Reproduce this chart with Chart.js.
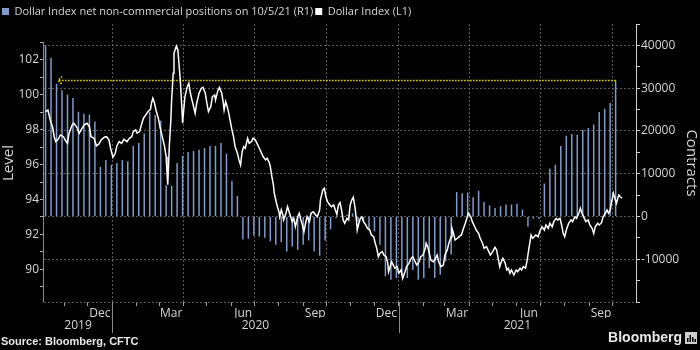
<!DOCTYPE html>
<html>
<head>
<meta charset="utf-8">
<script src="https://cdn.jsdelivr.net/npm/chart.js@4/dist/chart.umd.min.js"></script>
<style>
  html, body { margin: 0; padding: 0; background: #000; }
</style>
</head>
<body>
<canvas id="grafico" width="700" height="350"></canvas>
<script>
// Textos del grafico
const leyendas = ['Dollar Index net non-commercial positions on 10/5/21 (R1)', 'Dollar Index (L1)']
const nombresMeses = ['Jan', 'Feb', 'Mar', 'Apr', 'May', 'Jun', 'Jul', 'Aug', 'Sep', 'Oct', 'Nov', 'Dec']
const mesesConEtiqueta = ['Dec', 'Mar', 'Jun', 'Sep'] // Meses que llevan etiqueta en el eje X
const anos = ['2019', '2020', '2021'] // Segunda fila del eje X

// Posiciones netas no comerciales (barras semanales, eje derecho)
const fechasBarras = [
  '2019-10-08', '2019-10-15', '2019-10-22', '2019-10-29', '2019-11-05', '2019-11-12', '2019-11-19', '2019-11-26',
  '2019-12-03', '2019-12-10', '2019-12-17', '2019-12-24', '2019-12-31',
  '2020-01-07', '2020-01-14', '2020-01-21', '2020-01-28', '2020-02-04', '2020-02-11', '2020-02-18', '2020-02-25',
  '2020-03-03', '2020-03-10', '2020-03-17', '2020-03-24', '2020-03-31', '2020-04-07', '2020-04-14', '2020-04-21',
  '2020-04-28', '2020-05-05', '2020-05-12', '2020-05-19', '2020-05-26', '2020-06-02', '2020-06-09', '2020-06-16',
  '2020-06-23', '2020-06-30', '2020-07-07', '2020-07-14', '2020-07-21', '2020-07-28', '2020-08-04', '2020-08-11',
  '2020-08-18', '2020-08-25', '2020-09-01', '2020-09-08', '2020-09-15', '2020-09-22', '2020-09-29', '2020-10-06',
  '2020-10-13', '2020-10-20', '2020-10-27', '2020-11-03', '2020-11-10', '2020-11-17', '2020-11-24', '2020-12-01',
  '2020-12-08', '2020-12-15', '2020-12-22', '2020-12-29',
  '2021-01-05', '2021-01-12', '2021-01-19', '2021-01-26', '2021-02-02', '2021-02-09', '2021-02-16', '2021-02-23',
  '2021-03-02', '2021-03-09', '2021-03-16', '2021-03-23', '2021-03-30', '2021-04-06', '2021-04-13', '2021-04-20',
  '2021-04-27', '2021-05-04', '2021-05-11', '2021-05-18', '2021-05-25', '2021-06-01', '2021-06-08', '2021-06-15',
  '2021-06-22', '2021-06-29', '2021-07-06', '2021-07-13', '2021-07-20', '2021-07-27', '2021-08-03', '2021-08-10',
  '2021-08-17', '2021-08-24', '2021-08-31', '2021-09-07', '2021-09-14', '2021-09-21', '2021-09-28', '2021-10-05'
]
const posiciones = [
  40000, 37100, 31000, 29500, 28500, 27700, 24500, 24000, 23800, 22200, 11600, 13200, 12100,
  12500, 13200, 12900, 16500, 17200, 19400, 24400, 23700, 22400, 7300, 7200, 12500, 14200,
  15100, 15300, 15600, 16000, 16500, 16500, 17200, 14700, 8300, 4800, -5400, -5200, -4500,
  -4700, -5000, -5800, -6600, -6000, -8200, -7000, -7800, -6600, -5600, -8200, -9200, -5600,
  -3000, -400, -200, 400, 700, -1100, -1100, -3000, -3500, -6600, -14000, -14800, -14400,
  -13600, -14400, -12500, -14800, -14400, -12100, -14400, -13600, -10500, -8900, 5700, 5400, 5600,
  4500, 6000, 3400, 2600, 2000, 2400, 2800, 2800, 3000, 1600, -2400, -500, -600,
  7700, 11200, 12100, 16500, 18900, 19300, 19100, 20300, 20700, 21500, 24400, 25200, 26500, 31800
]

// Dollar Index (linea, eje izquierdo)
const fechasIndice = [
  '2019-10-08', '2019-10-11', '2019-10-14', '2019-10-17', '2019-10-19', '2019-10-21', '2019-10-24', '2019-10-27', '2019-10-31',
  '2019-11-02', '2019-11-05', '2019-11-07', '2019-11-11', '2019-11-13', '2019-11-17', '2019-11-20', '2019-11-23', '2019-11-26', '2019-11-30',
  '2019-12-03', '2019-12-05', '2019-12-09', '2019-12-12', '2019-12-15', '2019-12-18', '2019-12-22', '2019-12-25', '2019-12-28', '2019-12-30',
  '2020-01-02', '2020-01-05', '2020-01-07', '2020-01-10', '2020-01-13', '2020-01-16', '2020-01-20', '2020-01-23', '2020-01-26', '2020-01-28', '2020-01-31',
  '2020-02-02', '2020-02-05', '2020-02-08', '2020-02-10', '2020-02-13', '2020-02-16', '2020-02-19', '2020-02-20', '2020-02-22', '2020-02-24', '2020-02-26', '2020-02-29',
  '2020-03-02', '2020-03-05', '2020-03-08', '2020-03-10', '2020-03-11', '2020-03-12', '2020-03-13', '2020-03-14', '2020-03-16', '2020-03-17', '2020-03-19',
  '2020-03-20', '2020-03-23', '2020-03-25', '2020-03-26', '2020-03-28', '2020-03-30', '2020-03-31',
  '2020-04-01', '2020-04-03', '2020-04-06', '2020-04-08', '2020-04-10', '2020-04-12', '2020-04-14', '2020-04-16', '2020-04-18', '2020-04-21', '2020-04-24', '2020-04-26', '2020-04-29',
  '2020-05-01', '2020-05-03', '2020-05-06', '2020-05-08', '2020-05-11', '2020-05-12', '2020-05-15', '2020-05-17', '2020-05-20', '2020-05-22', '2020-05-23', '2020-05-25', '2020-05-27', '2020-05-29', '2020-05-31',
  '2020-06-02', '2020-06-04', '2020-06-06', '2020-06-09', '2020-06-11', '2020-06-13', '2020-06-15', '2020-06-17', '2020-06-19', '2020-06-22', '2020-06-24', '2020-06-27', '2020-06-29',
  '2020-07-02', '2020-07-04', '2020-07-07', '2020-07-09', '2020-07-12', '2020-07-15', '2020-07-17', '2020-07-20', '2020-07-21', '2020-07-23', '2020-07-25', '2020-07-26', '2020-07-28', '2020-07-30',
  '2020-08-01', '2020-08-02', '2020-08-04', '2020-08-06', '2020-08-07', '2020-08-10', '2020-08-12', '2020-08-14', '2020-08-16', '2020-08-18', '2020-08-20', '2020-08-22', '2020-08-25', '2020-08-27', '2020-08-29', '2020-08-31',
  '2020-09-02', '2020-09-04', '2020-09-06', '2020-09-09', '2020-09-11', '2020-09-14', '2020-09-17', '2020-09-19', '2020-09-22', '2020-09-23', '2020-09-26', '2020-09-28', '2020-09-30',
  '2020-10-02', '2020-10-05', '2020-10-07', '2020-10-10', '2020-10-12', '2020-10-14', '2020-10-16', '2020-10-18', '2020-10-20', '2020-10-22', '2020-10-24', '2020-10-27', '2020-10-29', '2020-10-31',
  '2020-11-02', '2020-11-04', '2020-11-06', '2020-11-08', '2020-11-09', '2020-11-11', '2020-11-13', '2020-11-15', '2020-11-17', '2020-11-20', '2020-11-22', '2020-11-25', '2020-11-27', '2020-11-30',
  '2020-12-02', '2020-12-04', '2020-12-06', '2020-12-08', '2020-12-11', '2020-12-13', '2020-12-16', '2020-12-18', '2020-12-19', '2020-12-21', '2020-12-23', '2020-12-25', '2020-12-27', '2020-12-30',
  '2021-01-01', '2021-01-04', '2021-01-06', '2021-01-09', '2021-01-11', '2021-01-14', '2021-01-17', '2021-01-19', '2021-01-22', '2021-01-24', '2021-01-27', '2021-01-29',
  '2021-02-01', '2021-02-04', '2021-02-05', '2021-02-07', '2021-02-09', '2021-02-11', '2021-02-14', '2021-02-16', '2021-02-19', '2021-02-21', '2021-02-24', '2021-02-27',
  '2021-03-01', '2021-03-04', '2021-03-06', '2021-03-09', '2021-03-10', '2021-03-12', '2021-03-14', '2021-03-17', '2021-03-19', '2021-03-22', '2021-03-24', '2021-03-27', '2021-03-29', '2021-03-31',
  '2021-04-03', '2021-04-05', '2021-04-08', '2021-04-10', '2021-04-13', '2021-04-15', '2021-04-18', '2021-04-20', '2021-04-23', '2021-04-25', '2021-04-28',
  '2021-05-01', '2021-05-04', '2021-05-06', '2021-05-08', '2021-05-10', '2021-05-12', '2021-05-14', '2021-05-17', '2021-05-19', '2021-05-21', '2021-05-23', '2021-05-25', '2021-05-28', '2021-05-31',
  '2021-06-02', '2021-06-05', '2021-06-07', '2021-06-09', '2021-06-12', '2021-06-14', '2021-06-16', '2021-06-18', '2021-06-19', '2021-06-21', '2021-06-23', '2021-06-25', '2021-06-28', '2021-06-30',
  '2021-07-03', '2021-07-06', '2021-07-08', '2021-07-11', '2021-07-13', '2021-07-16', '2021-07-18', '2021-07-21', '2021-07-23', '2021-07-26', '2021-07-28', '2021-07-30',
  '2021-08-01', '2021-08-03', '2021-08-06', '2021-08-09', '2021-08-11', '2021-08-14', '2021-08-16', '2021-08-19', '2021-08-21', '2021-08-23', '2021-08-26', '2021-08-28', '2021-08-31',
  '2021-09-02', '2021-09-05', '2021-09-07', '2021-09-09', '2021-09-12', '2021-09-14', '2021-09-17', '2021-09-19', '2021-09-22', '2021-09-24', '2021-09-26', '2021-09-28', '2021-09-30',
  '2021-10-02', '2021-10-04', '2021-10-06', '2021-10-09', '2021-10-11', '2021-10-13'
]
const valoresIndice = [
  99.04, 99.13, 98.56, 98.14, 97.60, 97.32, 97.45, 97.70, 97.60,
  97.41, 97.22, 97.80, 98.27, 98.37, 98.14, 97.80, 98.03, 98.27, 98.37,
  98.18, 97.60, 97.51, 97.07, 97.18, 97.41, 97.57, 97.60, 97.41, 96.94,
  96.42, 96.65, 97.07, 97.32, 97.22, 97.45, 97.32, 97.51, 97.60, 97.89, 97.99,
  97.80, 97.89, 98.37, 98.66, 98.85, 99.04, 99.17, 99.48, 99.80, 99.55, 99.13, 98.66,
  98.18, 97.60, 97.03, 96.45, 95.60, 94.85, 95.88, 97.03, 98.56, 99.70, 101.24,
  102.38, 102.80, 102.57, 102.00, 100.85, 99.32, 98.37,
  98.94, 99.90, 100.47, 100.66, 100.09, 99.70, 99.32, 98.94, 99.52, 100.09, 100.38, 100.43, 100.09,
  99.52, 99.04, 99.32, 99.90, 99.99, 99.70, 100.24, 100.43, 100.09, 99.52, 99.13, 99.61, 99.32, 98.94, 98.46,
  97.99, 97.60, 97.03, 96.65, 96.27, 95.98, 96.74, 97.03, 96.94, 97.51, 97.22, 97.32, 97.51,
  97.41, 97.22, 96.94, 96.74, 96.45, 96.27, 96.36, 96.08, 95.88, 95.31, 94.83, 94.36, 93.97, 93.59,
  93.30, 93.01, 93.40, 93.11, 92.83, 93.21, 93.59, 93.30, 93.01, 92.73, 92.92, 92.44, 93.01, 93.21, 92.83, 92.54,
  92.16, 92.64, 93.01, 92.73, 93.21, 93.30, 93.11, 93.01, 93.40, 93.97, 94.55, 94.64, 94.16,
  93.88, 93.69, 93.59, 93.69, 93.40, 93.15, 93.69, 93.82, 93.40, 92.83, 92.64, 92.92, 92.83, 93.69,
  93.97, 94.13, 93.59, 92.83, 92.25, 92.64, 92.92, 93.01, 92.73, 92.54, 92.35, 92.25, 91.97, 91.87,
  91.49, 91.20, 90.72, 90.92, 91.01, 90.82, 90.72, 90.34, 89.86, 90.15, 90.43, 90.24, 90.06, 90.15,
  89.77, 89.96, 89.48, 89.86, 90.15, 90.34, 90.63, 90.72, 90.43, 90.24, 90.43, 90.72,
  90.82, 91.20, 91.49, 91.30, 90.92, 90.53, 90.43, 90.53, 90.82, 90.43, 90.15, 90.24,
  90.82, 91.11, 91.49, 91.87, 92.35, 92.06, 91.68, 91.78, 91.87, 91.97, 92.25, 92.64, 92.92, 93.21,
  93.01, 92.73, 92.44, 92.25, 92.06, 91.78, 91.49, 91.20, 91.30, 91.11, 90.82,
  91.01, 91.26, 91.11, 90.63, 90.15, 90.43, 90.63, 90.34, 89.96, 90.06, 89.77, 89.96, 89.67, 89.96,
  89.86, 90.06, 89.96, 90.15, 90.06, 90.53, 91.11, 91.68, 91.97, 91.78, 91.87, 91.97, 91.87, 92.16,
  92.44, 92.25, 92.54, 92.35, 92.64, 92.44, 92.73, 92.92, 92.83, 92.92, 92.54, 92.06,
  91.87, 92.25, 92.64, 92.83, 92.73, 93.01, 92.92, 93.21, 93.50, 93.21, 92.92, 92.73, 92.83,
  92.54, 92.35, 92.06, 92.44, 92.64, 92.54, 92.67, 93.01, 93.21, 93.40, 93.21, 93.40, 93.88,
  94.36, 94.07, 93.78, 94.26, 94.16, 94.07
]

const puntaFlecha = '2019-10-24' // Hasta donde llega la flecha amarilla
const topeEjeIzq = 103 // El eje izquierdo se dibuja solo hasta este valor

// Colores y fuentes
const colorTexto = '#d6d6d6'
const colorBarras = '#819bcb'
const colorRejilla = '#5c5c5c'
const familia = "'Open Sans', 'Liberation Sans', sans-serif"
Chart.defaults.font.family = familia

const t = fecha => Date.parse(fecha) // Fecha ISO a milisegundos
const inicioEje = t('2019-10-06')
const finEje = t('2021-10-31')

// Inicio de cada mes dentro del eje (marcas pequeñas)
const inicioMeses = []
for (let a = 2019; a <= 2021; a++) {
  for (let m = 0; m < 12; m++) {
    const v = Date.UTC(a, m, 1)
    if (v >= inicioEje && v <= finEje) inicioMeses.push(v)
  }
}
const esTrimestre = v => new Date(v).getUTCMonth() % 3 === 0

// Centro visible de cada año para la segunda fila
const centrosAnos = anos.map(a => {
  const desde = Math.max(Date.UTC(+a, 0, 1), inicioEje)
  const hasta = Math.min(Date.UTC(+a + 1, 0, 1), finEje)
  return (desde + hasta) / 2
})

const extras = {
  id: 'extras',
  beforeInit (chart) {
    const fitOriginal = chart.legend.fit // Deja espacio bajo la leyenda
    chart.legend.fit = function () {
      fitOriginal.call(this)
      this.height = 20
    }
  },
  beforeDatasetsDraw (chart) {
    const { ctx, chartArea, scales: { y } } = chart
    // Linea del eje izquierdo, solo hasta su ultima marca
    ctx.save()
    ctx.strokeStyle = '#8a8a8a'
    ctx.lineWidth = 1
    ctx.beginPath()
    ctx.moveTo(chartArea.left - 0.5, y.getPixelForValue(topeEjeIzq))
    ctx.lineTo(chartArea.left - 0.5, chartArea.bottom)
    ctx.stroke()
    ctx.restore()
  },
  afterDatasetsDraw (chart) {
    const { ctx, scales: { x, y1 } } = chart
    const ultimo = posiciones.length - 1
    const yFlecha = y1.getPixelForValue(posiciones[ultimo])
    const xInicio = x.getPixelForValue(t(fechasBarras[ultimo]))
    const xPunta = x.getPixelForValue(t(puntaFlecha))

    ctx.save()
    ctx.strokeStyle = '#f0e200'
    ctx.lineWidth = 1.5
    ctx.setLineDash([1.5, 1.5])
    ctx.beginPath()
    ctx.moveTo(xInicio, yFlecha)
    ctx.lineTo(xPunta, yFlecha)
    ctx.moveTo(xPunta + 4, yFlecha - 4)
    ctx.lineTo(xPunta, yFlecha)
    ctx.lineTo(xPunta + 4, yFlecha + 4)
    ctx.stroke()
    ctx.restore()
  },
  afterDraw (chart) {
    const { ctx, chartArea, scales: { x } } = chart

    // Separadores de año bajo el eje X
    ctx.save()
    ctx.strokeStyle = '#8a8a8a'
    ctx.lineWidth = 1
    anos.slice(1).forEach(a => {
      const px = Math.round(x.getPixelForValue(Date.UTC(+a, 0, 1))) + 0.5
      ctx.beginPath()
      ctx.moveTo(px, chartArea.bottom)
      ctx.lineTo(px, chartArea.bottom + 31)
      ctx.stroke()
    })

    // Fuente y marca
    ctx.fillStyle = '#e8e8e8'
    ctx.textBaseline = 'middle'
    ctx.font = "bold 11px 'Liberation Sans', sans-serif"
    ctx.fillText('Source: Bloomberg, CFTC', 1, 342)
    ctx.font = "bold 14px 'Liberation Sans', sans-serif"
    ctx.textAlign = 'right'
    ctx.fillText('Bloomberg', 682, 338)
    ctx.fillStyle = '#cfcfcf'
    ctx.fillRect(685, 332, 12, 12)
    ctx.fillStyle = '#000'
    ctx.fillRect(687, 338, 1.5, 4)
    ctx.fillRect(689.5, 335, 1.5, 7)
    ctx.fillRect(692, 337, 1.5, 5)
    ctx.fillRect(694.5, 339, 1.5, 3)
    ctx.restore()
  }
}

const fuenteEjes = { size: 12 }

new Chart(document.getElementById('grafico'), {
  type: 'line',
  data: {
    datasets: [
      {
        type: 'bar',
        label: leyendas[0],
        data: fechasBarras.map((f, i) => ({ x: t(f), y: posiciones[i] })),
        xAxisID: 'x',
        yAxisID: 'y1',
        backgroundColor: colorBarras,
        borderWidth: 0,
        barThickness: 1.5,
        inflateAmount: 0,
        order: 2
      },
      {
        type: 'line',
        label: leyendas[1],
        data: fechasIndice.map((f, i) => ({ x: t(f), y: valoresIndice[i] })),
        xAxisID: 'x',
        yAxisID: 'y',
        borderColor: '#ffffff',
        borderWidth: 1.5,
        pointRadius: 0,
        tension: 0,
        order: 1
      }
    ]
  },
  options: {
    responsive: false,
    animation: false,
    events: [],
    layout: { padding: { top: 4, bottom: 16, left: 0, right: 0 } },
    plugins: {
      tooltip: { enabled: false },
      legend: {
        position: 'top',
        align: 'start',
        labels: {
          boxWidth: 7,
          boxHeight: 7,
          padding: 2,
          color: colorTexto,
          font: { size: 11 },
          generateLabels: () => [
            { text: leyendas[0], fillStyle: colorBarras, strokeStyle: colorBarras, lineWidth: 0, hidden: false, fontColor: colorTexto },
            { text: leyendas[1], fillStyle: '#ffffff', strokeStyle: '#ffffff', lineWidth: 0, hidden: false, fontColor: colorTexto }
          ]
        }
      }
    },
    scales: {
      x: {
        type: 'linear',
        position: 'bottom',
        weight: 0,
        offset: false,
        min: inicioEje,
        max: finEje,
        afterBuildTicks: e => { e.ticks = inicioMeses.map(v => ({ value: v })) },
        ticks: {
          autoSkip: false,
          maxRotation: 0,
          color: colorTexto,
          font: fuenteEjes,
          padding: 0,
          labelOffset: 12,
          callback: v => {
            const mes = nombresMeses[new Date(v).getUTCMonth()]
            return mesesConEtiqueta.includes(mes) ? mes : ''
          }
        },
        grid: {
          offset: false,
          color: c => (c.tick && esTrimestre(c.tick.value)) ? colorRejilla : 'transparent',
          tickColor: '#9a9a9a',
          tickLength: 4
        },
        border: { display: false, dash: [2, 2] },
        afterFit: e => { e.height = 16 }
      },
      xAno: {
        type: 'linear',
        axis: 'x',
        position: 'bottom',
        weight: 1,
        offset: false,
        min: inicioEje,
        max: finEje,
        afterBuildTicks: e => { e.ticks = centrosAnos.map(v => ({ value: v })) },
        ticks: {
          autoSkip: false,
          maxRotation: 0,
          color: colorTexto,
          font: fuenteEjes,
          padding: 0,
          callback: (v, i) => anos[i]
        },
        grid: { display: false, drawTicks: false, offset: false },
        border: { display: false },
        afterFit: e => { e.height = 16 }
      },
      y: {
        type: 'linear',
        position: 'left',
        min: 88.125,
        max: 104.06,
        ticks: {
          stepSize: 1,
          includeBounds: false,
          color: colorTexto,
          font: fuenteEjes,
          padding: 1,
          callback: v => (v % 2 === 0 && v <= 102) ? String(v) : ''
        },
        grid: {
          drawOnChartArea: false,
          tickLength: 4,
          tickColor: c => (c.tick && c.tick.value > topeEjeIzq) ? 'transparent' : '#b0b0b0'
        },
        border: { display: false },
        title: { display: true, text: 'Level', color: colorTexto, font: { size: 15 }, padding: 0 },
        afterFit: e => { e.width = 44 }
      },
      y1: {
        type: 'linear',
        position: 'right',
        min: -20000,
        max: 45000,
        ticks: {
          stepSize: 5000,
          color: colorTexto,
          font: fuenteEjes,
          padding: 1,
          callback: v => (v % 10000 === 0 && v > -20000) ? String(v) : ''
        },
        grid: {
          color: c => (c.tick && c.tick.value % 10000 === 0) ? colorRejilla : 'transparent',
          tickLength: 4,
          tickColor: '#cccccc'
        },
        border: { color: '#d0d0d0', dash: [2, 2] },
        title: { display: true, text: 'Contracts', color: colorTexto, font: { size: 15 }, padding: 0 },
        afterFit: e => { e.width = 64 }
      }
    }
  },
  plugins: [extras]
})
</script>
</body>
</html>
